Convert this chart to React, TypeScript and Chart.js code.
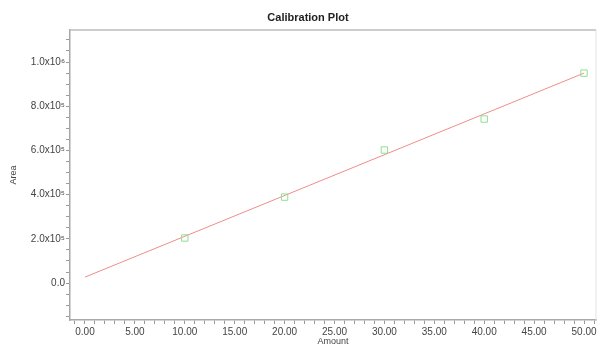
import React, { useEffect, useRef } from 'react';
import { Chart, registerables } from 'chart.js';

Chart.register(...registerables);

// Calibration data
const amounts = [10, 20, 30, 40, 50];
const areas = [2.04e5, 3.89e5, 6.02e5, 7.42e5, 9.5e5];

// Calibration (fit) line end points
const fitAmounts = [0, 50];
const fitAreas = [2.7e4, 9.5e5];

// Tick labels
const yMajorValues = [0, 2e5, 4e5, 6e5, 8e5, 1e6];
const yTickLabels = ['0.0', '2.0x10⁵', '4.0x10⁵', '6.0x10⁵', '8.0x10⁵', '1.0x10⁶'];
const xMajorValues = [0, 5, 10, 15, 20, 25, 30, 35, 40, 45, 50];
const xTickLabels = ['0.00', '5.00', '10.00', '15.00', '20.00', '25.00', '30.00', '35.00', '40.00', '45.00', '50.00'];

const chartTitle = 'Calibration Plot';
const xTitle = 'Amount';
const yTitle = 'Area';

const FONT = "'Liberation Sans', Arial, sans-serif";

export default function App() {
  const ref = useRef<HTMLCanvasElement | null>(null);

  useEffect(() => {
    if (!ref.current) return;

    const framePlugin = {
      id: 'frame',
      afterDraw(chart: any) {
        const { ctx, chartArea } = chart;
        ctx.save();
        ctx.strokeStyle = '#bdbdbd';
        ctx.lineWidth = 1.5;
        ctx.beginPath();
        ctx.moveTo(chartArea.left, chartArea.top);
        ctx.lineTo(chartArea.right, chartArea.top);
        ctx.stroke();
        ctx.strokeStyle = '#e4e4e4';
        ctx.lineWidth = 1;
        ctx.beginPath();
        ctx.moveTo(chartArea.right, chartArea.top);
        ctx.lineTo(chartArea.right, chartArea.bottom);
        ctx.stroke();
        // Title
        ctx.fillStyle = '#222';
        ctx.font = `bold 11px ${FONT}`;
        ctx.textAlign = 'center';
        ctx.textBaseline = 'middle';
        ctx.fillText(chartTitle, 308, 18);
        ctx.restore();
      },
    };

    const chart = new Chart(ref.current, {
      type: 'scatter',
      data: {
        datasets: [
          {
            type: 'line',
            label: 'Fit',
            data: fitAmounts.map((x, i) => ({ x, y: fitAreas[i] })),
            borderColor: '#f08c8c',
            borderWidth: 1,
            pointRadius: 0,
            fill: false,
            order: 2,
          } as any,
          {
            type: 'scatter',
            label: 'Standards',
            data: amounts.map((x, i) => ({ x, y: areas[i] })),
            pointStyle: 'rect',
            pointRadius: 4.5,
            borderColor: '#8ee08e',
            backgroundColor: 'rgba(0,0,0,0)',
            borderWidth: 1,
            order: 1,
          } as any,
        ],
      },
      options: {
        responsive: false,
        animation: false,
        layout: { autoPadding: false, padding: { top: 30, right: 1, left: 0, bottom: 0 } },
        plugins: {
          legend: { display: false },
          title: { display: false },
          tooltip: { enabled: false },
        },
        scales: {
          x: {
            type: 'linear',
            min: -1.5,
            max: 51.2,
            afterFit(scale: any) {
              scale.height = 25;
              scale.paddingRight = 0;
              scale.paddingLeft = 0;
            },
            afterBuildTicks(scale: any) {
              const t = [];
              for (let v = -1; v <= 51; v++) t.push({ value: v });
              scale.ticks = t;
            },
            grid: {
              display: true,
              drawOnChartArea: false,
              drawTicks: true,
              tickLength: 4,
              color: '#9a9a9a',
            },
            border: { display: true, color: '#a8a8a8', width: 1.5 },
            ticks: {
              autoSkip: false,
              maxRotation: 0,
              padding: 2,
              color: '#444',
              font: { family: FONT, size: 10 },
              callback(value: any) {
                const i = xMajorValues.indexOf(Number(value));
                return i >= 0 ? xTickLabels[i] : '';
              },
            },
            title: {
              display: true,
              text: xTitle,
              color: '#444',
              font: { family: FONT, size: 9 },
              padding: { top: 0, bottom: -2 },
            },
          },
          y: {
            type: 'linear',
            min: -1.67e5,
            max: 1.145e6,
            afterFit(scale: any) {
              scale.width = 70;
            },
            afterBuildTicks(scale: any) {
              const t = [];
              for (let v = -150000; v <= 1100000; v += 50000) t.push({ value: v });
              scale.ticks = t;
            },
            grid: {
              display: true,
              drawOnChartArea: false,
              drawTicks: true,
              tickLength: 4,
              color: '#9a9a9a',
            },
            border: { display: true, color: '#a8a8a8', width: 1.5 },
            ticks: {
              autoSkip: false,
              padding: 1,
              color: '#444',
              font: { family: FONT, size: 10 },
              callback(value: any) {
                const i = yMajorValues.indexOf(Number(value));
                return i >= 0 ? yTickLabels[i] : '';
              },
            },
            title: {
              display: true,
              text: yTitle,
              color: '#444',
              font: { family: FONT, size: 9 },
              padding: { top: 8, bottom: 0 },
            },
          },
        },
      },
      plugins: [framePlugin],
    });

    return () => chart.destroy();
  }, []);

  return (
    <div style={{ position: 'fixed', left: 0, top: 0, width: 597, height: 345, background: '#fff' }}>
      <canvas ref={ref} width={597} height={345} style={{ width: 597, height: 345 }} />
    </div>
  );
}
